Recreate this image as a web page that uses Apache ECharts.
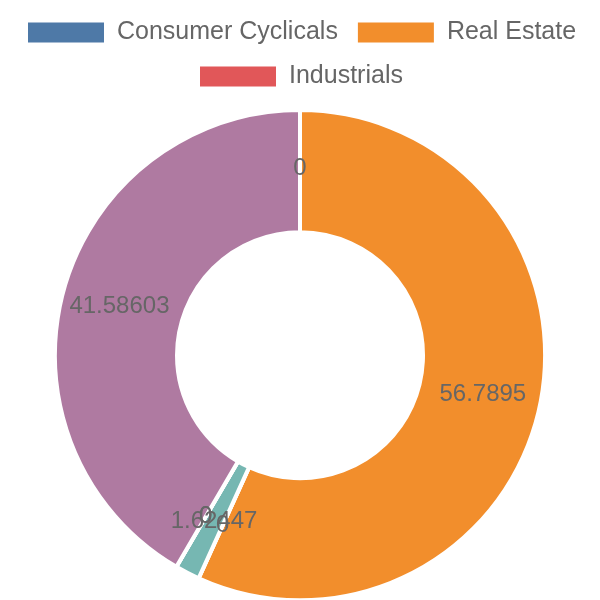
<!DOCTYPE html>
<html>
<head>
<meta charset="utf-8">
<script src="https://cdn.jsdelivr.net/npm/echarts@6/dist/echarts.min.js"></script>
<style>html,body{margin:0;padding:0;background:#fff;}#c{width:600px;height:600px;}</style>
</head>
<body>
<div id="c"></div>
<script>
const names = ['Consumer Cyclicals', 'Real Estate', 'Industrials', 'Technology', 'Energy', 'Utilities', 'Financials'];
const values = [0, 56.7895, 0, 1.62447, 0, 0, 41.58603];
const legendRow1 = ['Consumer Cyclicals', 'Real Estate'];
const legendRow2 = ['Industrials'];
const colors = ['#4e79a7', '#f28e2c', '#e15759', '#76b7b2', '#59a14f', '#edc949', '#af7aa1'];

const FONT = 'Liberation Sans, Arial, sans-serif';
const legendBase = {
  padding: 0,
  itemWidth: 76,
  itemHeight: 20,
  itemGap: 20,
  icon: 'rect',
  selectedMode: false,
  itemStyle: {borderWidth: 0},
  textStyle: {fontSize: 25, color: '#666', padding: [0, 0, 0, 8], fontFamily: FONT}
};

const chart = echarts.init(document.getElementById('c'), null, {renderer: 'canvas'});
chart.setOption({
  animation: false,
  color: colors,
  textStyle: {fontFamily: FONT},
  legend: [
    Object.assign({}, legendBase, {data: legendRow1, top: 20, left: 28}),
    Object.assign({}, legendBase, {data: legendRow2, top: 64, left: 200})
  ],
  series: [{
    type: 'pie',
    radius: ['41%', '81.7%'],
    center: ['50%', '59.2%'],
    data: names.map((n, i) => ({name: n, value: values[i]})),
    label: {show: true, position: 'inside', formatter: '{c}', fontSize: 24, color: '#666', fontFamily: FONT},
    labelLine: {show: false},
    labelLayout: {hideOverlap: false},
    itemStyle: {borderColor: '#fff', borderWidth: 4},
    emphasis: {disabled: true}
  }]
});
</script>
</body>
</html>
